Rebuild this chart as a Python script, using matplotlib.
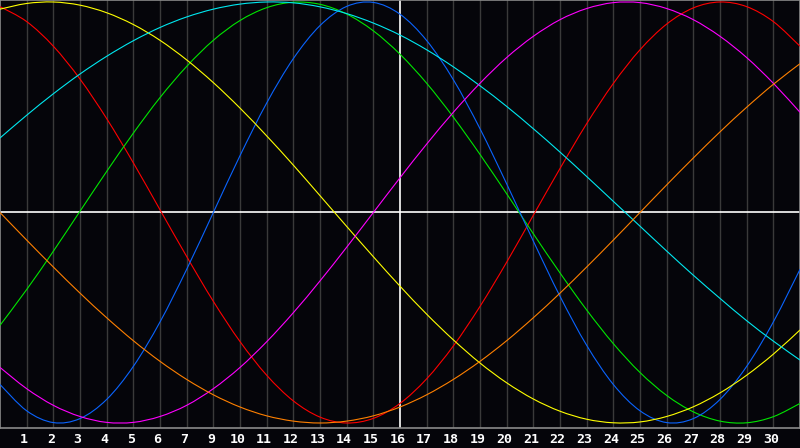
import matplotlib
matplotlib.use('Agg')
import matplotlib.pyplot as plt
import matplotlib.transforms as mtransforms
from matplotlib.path import Path
from matplotlib.patches import PathPatch

# day offsets across the chart (0 = left edge, 30 = right edge)
days = list(range(31))

# cycle values, one per day, -1..1
physical = [-0.817, -0.942, -0.998, -0.979, -0.888, -0.731, -0.520, -0.270, 0.000, 0.270,
            0.520, 0.731, 0.888, 0.979, 0.998, 0.942, 0.817, 0.631, 0.398, 0.136,
            -0.136, -0.398, -0.631, -0.817, -0.942, -0.998, -0.979, -0.888, -0.731, -0.520, -0.270]
emotional = [0.978, 0.907, 0.790, 0.634, 0.446, 0.236, 0.013, -0.209, -0.422, -0.613,
             -0.773, -0.895, -0.972, -1.000, -0.978, -0.907, -0.790, -0.634, -0.446, -0.236,
             -0.013, 0.209, 0.422, 0.613, 0.773, 0.895, 0.972, 1.000, 0.978, 0.907, 0.790]
intellectual = [-0.536, -0.366, -0.184, 0.006, 0.195, 0.377, 0.546, 0.694, 0.818, 0.912,
                0.973, 0.999, 0.989, 0.943, 0.863, 0.752, 0.614, 0.453, 0.276, 0.089,
                -0.101, -0.287, -0.463, -0.623, -0.760, -0.869, -0.947, -0.991, -0.999, -0.970, -0.907]
intuitive = [-0.736, -0.837, -0.916, -0.969, -0.997, -0.997, -0.969, -0.916, -0.837, -0.736,
             -0.614, -0.476, -0.325, -0.165, 0.000, 0.165, 0.325, 0.476, 0.614, 0.736,
             0.837, 0.916, 0.969, 0.997, 0.997, 0.969, 0.916, 0.837, 0.736, 0.614, 0.476]
aesthetic = [0.966, 0.993, 1.000, 0.985, 0.949, 0.893, 0.818, 0.725, 0.617, 0.496,
             0.364, 0.225, 0.080, -0.066, -0.210, -0.350, -0.483, -0.605, -0.715, -0.809,
             -0.886, -0.944, -0.982, -0.999, -0.995, -0.969, -0.923, -0.857, -0.773, -0.673, -0.558]
awareness = [0.000, -0.131, -0.259, -0.383, -0.500, -0.609, -0.707, -0.793, -0.866, -0.924,
             -0.966, -0.991, -1.000, -0.991, -0.966, -0.924, -0.866, -0.793, -0.707, -0.609,
             -0.500, -0.383, -0.259, -0.131, 0.000, 0.131, 0.259, 0.383, 0.500, 0.609, 0.707]
spiritual = [0.354, 0.462, 0.564, 0.658, 0.742, 0.816, 0.879, 0.929, 0.966, 0.990,
             1.000, 0.996, 0.977, 0.945, 0.900, 0.843, 0.773, 0.692, 0.602, 0.504,
             0.398, 0.287, 0.171, 0.053, -0.065, -0.183, -0.298, -0.408, -0.514, -0.611, -0.701]

# the original label row skips "8"
label_days = list(range(1, 30))
day_labels = ['1', '2', '3', '4', '5', '6', '7', '9', '10', '11', '12', '13', '14', '15',
              '16', '17', '18', '19', '20', '21', '22', '23', '24', '25', '26', '27',
              '28', '29', '30']

series = [
    (emotional, '#ff0000'),
    (intellectual, '#00e600'),
    (physical, '#0a64ff'),
    (aesthetic, '#ffff00'),
    (spiritual, '#00e8f0'),
    (intuitive, '#ff00ff'),
    (awareness, '#ff8000'),
]


def smooth_path(xs, ys):
    # cubic bezier through the daily points (catmull-rom style handles)
    n = len(xs)
    verts = [(xs[0], ys[0])]
    codes = [Path.MOVETO]
    for i in range(n - 1):
        x0, y0 = xs[max(i - 1, 0)], ys[max(i - 1, 0)]
        x1, y1 = xs[i], ys[i]
        x2, y2 = xs[i + 1], ys[i + 1]
        x3, y3 = xs[min(i + 2, n - 1)], ys[min(i + 2, n - 1)]
        verts += [(x1 + (x2 - x0) / 6, y1 + (y2 - y0) / 6),
                  (x2 - (x3 - x1) / 6, y2 - (y3 - y1) / 6),
                  (x2, y2)]
        codes += [Path.CURVE4] * 3
    return Path(verts, codes)


bg = '#05050a'
fig = plt.figure(figsize=(8, 4.48), dpi=100, facecolor=bg)
ax = fig.add_axes([0, 20 / 448, 1, 428 / 448], facecolor=bg)

ax.set_xlim(0, 30)
ax.set_ylim((212.5 - 428) / 210.5, 212.5 / 210.5)

for d in label_days:
    if d == 15:
        continue
    ax.axvline(d, color='#3a3a3a', lw=1.0, zorder=1)

for values, color in series:
    ax.add_patch(PathPatch(smooth_path(days, values), facecolor='none',
                           edgecolor=color, lw=0.8, zorder=3))

ax.axvline(15, color='#ffffff', lw=1.2, zorder=2)
ax.axhline(0, color='#ffffff', lw=1.2, zorder=2)

for side in ['left', 'right', 'top', 'bottom']:
    ax.spines[side].set_color('#8a8a8a')
    ax.spines[side].set_linewidth(1.2)
ax.set_xticks([])
ax.set_yticks([])

# labels sit just under the frame, slightly left of each grid line
shift = mtransforms.offset_copy(ax.get_xaxis_transform(), fig=fig, x=-2.5, y=-11, units='dots')
for d, lab in zip(label_days, day_labels):
    ax.text(d, 0, lab, transform=shift, color='white', fontsize=9.5,
            fontweight='bold', family='DejaVu Sans Mono', ha='center', va='center')

fig.savefig('out.png', dpi=100, facecolor=bg)
